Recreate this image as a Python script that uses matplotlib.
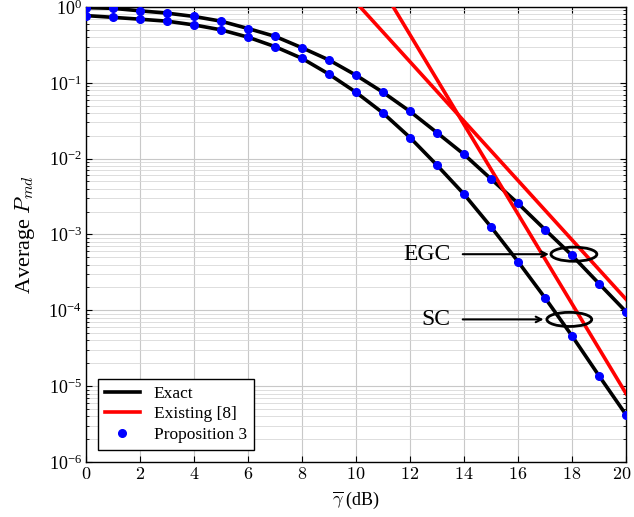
import numpy as np
import matplotlib.pyplot as plt
import matplotlib.transforms as mtransforms
from matplotlib.patches import Ellipse

plt.rcParams['font.family'] = ['Liberation Serif', 'DejaVu Serif']
plt.rcParams['mathtext.fontset'] = 'cm'

# average SNR (dB)
snr = np.arange(0, 21)

# exact / Proposition 3 values
egc = [0.98, 0.96, 0.89, 0.83, 0.75, 0.65, 0.52, 0.41, 0.29, 0.20, 0.126,
       0.075, 0.042, 0.022, 0.0114, 0.0054, 0.00257, 0.00116, 5.3e-4, 2.25e-4, 9.6e-5]
sc = [0.77, 0.73, 0.69, 0.65, 0.58, 0.50, 0.40, 0.30, 0.21, 0.13, 0.075,
      0.040, 0.019, 0.0082, 0.0034, 0.00126, 4.4e-4, 1.46e-4, 4.6e-5, 1.37e-5, 4.2e-6]

# existing [8] asymptotes
egc_old_x = [10, 20]
egc_old = [1.15, 1.4e-4]
sc_old_x = [11, 20]
sc_old = [1.68, 8e-6]

fig = plt.figure(figsize=(6.34, 5.17), dpi=100)
ax = fig.add_axes([0.1356, 0.1064, 0.8518, 0.8801])

ax.plot(snr, egc, color='black', lw=2.6, zorder=3, label='Exact')
ax.plot(snr, sc, color='black', lw=2.6, zorder=3)
ax.plot(egc_old_x, egc_old, color='red', lw=2.6, zorder=3, label='Existing [8]')
ax.plot(sc_old_x, sc_old, color='red', lw=2.6, zorder=3)
ax.plot(snr, egc, 'o', color='blue', ms=5.5, zorder=4, label='Proposition 3')
ax.plot(snr, sc, 'o', color='blue', ms=5.5, zorder=4)

ax.set_yscale('log')
ax.set_xlim(0, 20)
ax.set_ylim(1e-6, 1)
ax.set_xticks(range(0, 21, 2))
ax.set_xticklabels([f'${v}$' for v in range(0, 21, 2)])
ax.grid(True, which='major', color='#c8c8c8', lw=0.8)
ax.grid(True, which='minor', axis='y', color='#d8d8d8', lw=0.6)
ax.tick_params(which='both', direction='in', top=True, right=True, labelsize=13)
ax.tick_params(which='major', length=4, pad=3)
ax.tick_params(which='minor', length=2.5)
for s in ax.spines.values():
    s.set_linewidth(1.0)

# keep the last x label inside the canvas
last = ax.get_xticklabels()[-1]
last.set_transform(last.get_transform() +
                   mtransforms.ScaledTranslation(-3 / 72, 0, fig.dpi_scale_trans))

ax.set_xlabel(r'$\overline{\gamma}$ (dB)', fontsize=13, labelpad=5)
ax.set_ylabel(r'Average $P_{md}$', fontsize=16, labelpad=8)

# annotations (ellipses sized in axes fractions so they stay round on log scale)
def to_axes(x, logy):
    return (x / 20, (logy + 6) / 6)

ax.add_patch(Ellipse(to_axes(18.07, -3.26), 0.085, 0.031, transform=ax.transAxes,
                     fill=False, lw=2, zorder=5))
ax.add_patch(Ellipse(to_axes(17.9, -4.12), 0.083, 0.031, transform=ax.transAxes,
                     fill=False, lw=2, zorder=5))
ax.annotate('', xy=(17.25, 10**-3.26), xytext=(13.85, 10**-3.26),
            arrowprops=dict(arrowstyle='->', lw=1.5, color='black'))
ax.annotate('', xy=(17.05, 10**-4.12), xytext=(13.85, 10**-4.12),
            arrowprops=dict(arrowstyle='->', lw=1.5, color='black'))
ax.text(13.5, 10**-3.26, 'EGC', fontsize=17, ha='right', va='center')
ax.text(13.5, 10**-4.12, 'SC', fontsize=17, ha='right', va='center')

ax.legend(loc='lower left', fontsize=12.5, fancybox=False, edgecolor='black',
          framealpha=1, borderaxespad=0.7, handlelength=2.0, borderpad=0.4,
          labelspacing=0.25)

fig.savefig('out.png', dpi=100)
